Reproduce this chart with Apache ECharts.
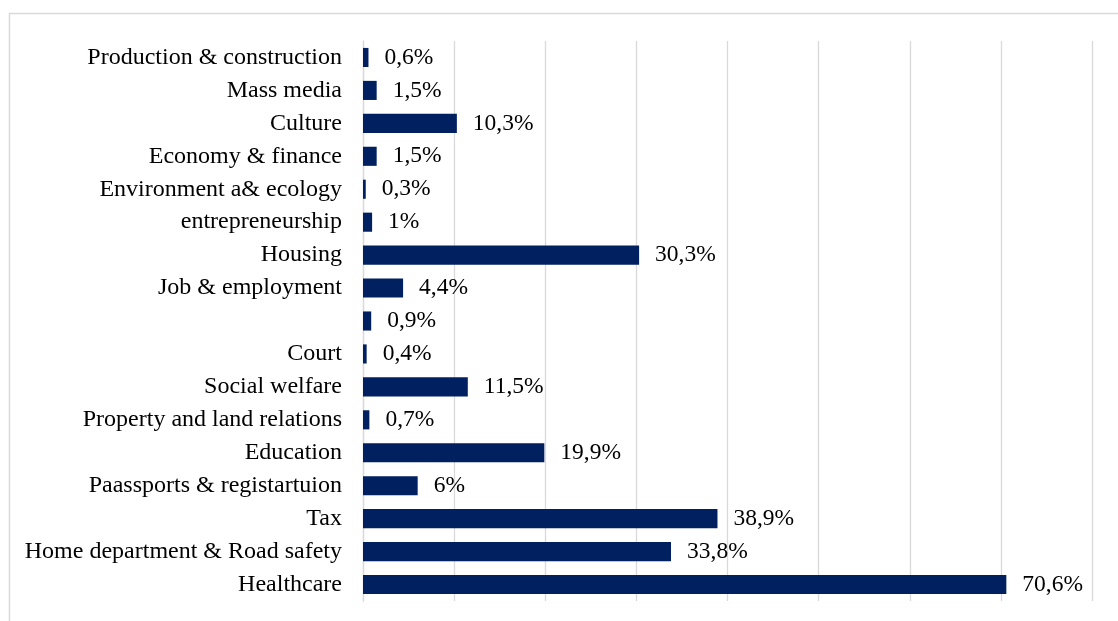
<!DOCTYPE html>
<html>
<head>
<meta charset="utf-8">
<script src="https://cdn.jsdelivr.net/npm/echarts@6/dist/echarts.min.js"></script>
<style>
  html, body { margin: 0; padding: 0; background: #ffffff; }
  #chart { width: 1118px; height: 621px; }
</style>
</head>
<body>
<div id="chart"></div>
<script>
// Categories listed top to bottom
const categories = [
  'Production & construction',
  'Mass media',
  'Culture',
  'Economy & finance',
  'Environment a& ecology',
  'entrepreneurship',
  'Housing',
  'Job & employment',
  '',
  'Court',
  'Social welfare',
  'Property and land relations',
  'Education',
  'Paassports & registartuion',
  'Tax',
  'Home department & Road safety',
  'Healthcare'
];

// Share of requests, percent
const shares = [0.6, 1.5, 10.3, 1.5, 0.3, 1, 30.3, 4.4, 0.9, 0.4, 11.5, 0.7, 19.9, 6, 38.9, 33.8, 70.6];

const FONT = '"Liberation Serif", "Times New Roman", serif';

const chart = echarts.init(document.getElementById('chart'), null, { renderer: 'canvas' });

chart.setOption({
  animation: false,
  backgroundColor: '#ffffff',
  graphic: [{
    type: 'rect',
    left: 7, top: 11,
    shape: { width: 1200, height: 700 },
    style: { fill: 'none', stroke: '#d9d9d9', lineWidth: 1.5 },
    silent: true
  }],
  grid: { left: 363, right: 26, top: 41, bottom: 20, containLabel: false },
  xAxis: {
    type: 'value',
    min: 0, max: 80, interval: 10,
    axisLabel: { show: false },
    axisLine: { show: false },
    axisTick: { show: false },
    splitLine: { show: true, lineStyle: { color: '#d9d9d9', width: 1.3 } }
  },
  yAxis: {
    type: 'category',
    data: categories,
    inverse: true,
    axisTick: { show: false },
    axisLine: { show: true, lineStyle: { color: '#d9d9d9', width: 1.3 } },
    axisLabel: { color: '#000000', fontFamily: FONT, fontSize: 24, margin: 21, padding: [6, 0, 0, 0] }
  },
  series: [{
    type: 'bar',
    data: shares,
    barCategoryGap: '42%',
    itemStyle: { color: '#002060' },
    label: {
      show: true,
      position: 'right',
      distance: 16,
      color: '#000000',
      fontFamily: FONT,
      fontSize: 23.5,
      padding: [6, 0, 0, 0],
      formatter: p => String(p.value).replace('.', ',') + '%'
    }
  }]
});
</script>
</body>
</html>
